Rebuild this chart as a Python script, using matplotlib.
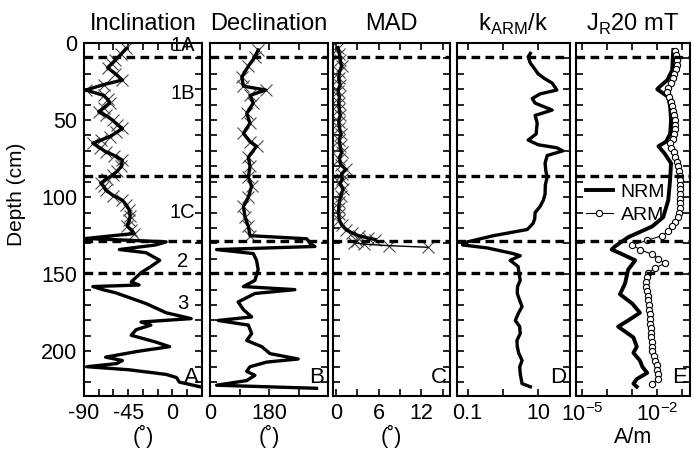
import numpy as np
import matplotlib

matplotlib.use("Agg")
import matplotlib.pyplot as plt
from matplotlib.ticker import MultipleLocator, FixedLocator, FuncFormatter, NullLocator

plt.rcParams["font.family"] = ["Liberation Sans", "DejaVu Sans"]
plt.rcParams["mathtext.fontset"] = "custom"
plt.rcParams["mathtext.rm"] = "Liberation Sans"

# boundaries between units (cm)
unit_depths = [9, 86, 128.5, 149]
unit_labels = ["1A", "1B", "1C", "2", "3"]
unit_label_depths = [1.5, 33, 110, 142, 169]

# inclination (deg)
inc_depth = [3.5, 7, 11, 13.5, 16, 20, 24, 27, 30.5, 34, 36.5, 39, 42, 44.6, 47, 50, 53, 55.4,
             58, 60.8, 63, 65, 68, 70.5, 73, 76, 80, 83, 85.7, 88, 91, 93, 95.5, 99, 102, 105,
             108.4, 112, 115, 119, 121, 123.6,
             126.8, 129, 131, 134, 136, 141, 145, 149, 155, 157, 158, 160, 162, 169, 175, 178.8,
             181, 183, 186, 189.6, 194, 197, 200, 203.8, 206, 208, 210, 212, 215, 217, 220, 223]
inc = [-47, -52, -58, -62, -66, -58, -51, -70, -88, -70, -66, -64, -70, -75, -68, -61, -56, -51,
       -57, -64, -73, -81, -74, -68, -59, -51, -52, -56, -61, -67, -73, -70, -68, -60, -51, -47,
       -44, -43, -44, -46, -42, -39,
       -88, -6.5, -17, -54, -27, -13, -22, -32, -42, -34, -81, -71, -58, -27, -6.5, 19,
       -32, -22, -37, -42, -17, -3, -35, -68, -51, -57, -87, -44, -6.5, 4, 7, 28]

# declination (deg)
dec_depth = [4.5, 9, 15, 22, 28, 30.5, 34, 39, 45.7, 52, 58.6, 64, 67, 74, 80, 87, 93, 100,
             106, 113, 119, 125,
             127, 128, 130, 132, 134, 136.6, 141, 147, 154, 158, 160, 162.5, 168, 173, 177.7,
             180, 183, 188.5, 193, 197, 201.5, 205, 207, 210, 213, 215.6, 219, 222, 224]
dec = [147, 137, 117, 97, 102, 170, 122, 132, 112, 122, 102, 122, 142, 117, 122, 117, 127, 117,
       102, 107, 117, 122,
       295, 299, 305, 320, 20, 132, 142, 147, 137, 102, 259, 137, 86, 102, 127,
       25, 117, 127, 112, 158, 183, 269, 173, 122, 112, 137, 112, 20, 325]

# maximum angular deviation (deg)
mad_depth = [3, 7, 11, 15, 19, 23, 27, 31, 35, 39, 43, 47, 51, 55, 59, 63, 67, 71, 75, 79, 82,
             85, 88, 91, 95, 99, 103, 107, 111, 115, 118, 121, 123, 125, 126.5, 127.5,
             128.5, 129.5, 130.5, 131.5, 132.5]
mad = [0.3, 0.5, 0.6, 0.8, 0.5, 0.4, 0.6, 0.3, 0.5, 0.4, 0.5, 0.6, 0.4, 0.5, 0.7, 0.5, 0.6, 0.8,
       0.5, 0.7, 1.4, 0.8, 0.9, 0.6, 1.0, 0.7, 0.5, 0.4, 0.4, 0.5, 0.8, 1.4, 2.2, 3.2, 4.5, 5.5,
       3.0, 2.5, 4.0, 7.5, 12.9]

# kARM/k
kd_depth = [6.7, 9, 13, 16, 20, 23, 26, 30.5, 33, 36, 39, 43.5, 47, 52, 56, 59, 63, 66, 68, 70,
            73, 78, 83, 87, 92, 98, 102, 106, 110, 114, 117, 121, 125, 129, 131, 133, 136.5, 138,
            141, 145, 150, 154, 158, 162.5, 167, 171, 175, 180, 184, 188.5, 193, 197, 201, 206,
            210, 214.5, 218, 221, 223]
karm_k = [6.0, 5.2, 6.0, 7.5, 10, 15, 25, 34, 11.4, 6.8, 8.2, 25, 8.2, 9.4, 9.0, 8.8, 5.2, 10,
          34, 50, 18, 15.7, 16.5, 18, 16, 15.7, 14, 11.4, 8.2, 8.0, 7.2, 4.9, 0.54, 0.1, 0.072,
          0.37, 1.85, 3.1, 1.6, 2.7, 2.9, 3.1, 2.6, 2.56, 3.0, 3.5, 2.8, 2.25, 3.0, 3.1, 2.5,
          2.56, 2.8, 3.5, 3.0, 3.1, 3.3, 3.5, 6.0]

# intensity after 20 mT (A/m)
nrm_depth = [4.5, 10, 17.5, 24, 28, 30, 35, 41, 50, 59, 64, 67, 72, 78, 89, 102, 113, 119, 126,
             132, 134, 137, 141, 147, 156, 163, 169, 175, 180, 184, 191, 197, 201, 206, 210, 214,
             218, 221, 223]
nrm = [0.043, 0.041, 0.039, 0.025, 0.013, 0.0098, 0.027, 0.032, 0.035, 0.032, 0.022, 0.011,
       0.020, 0.035, 0.032, 0.027, 0.017, 0.0062, 6.8e-4, 2.0e-4, 1.5e-4, 3.9e-4, 1.3e-3,
       6.8e-4, 5.1e-4, 3.2e-4, 9.8e-4, 2.0e-3, 6.8e-4, 2.7e-4, 1.1e-3, 1.5e-3, 1.1e-3, 2.0e-3,
       2.5e-3, 3.9e-3, 1.5e-3, 1.1e-3, 1.5e-3]
arm_depth = [5, 8, 11, 14, 17, 20, 23, 26, 29, 32, 35, 38, 41, 44, 47, 50, 53, 56, 59, 62, 65,
             68, 71, 74, 77, 80, 83, 86, 89, 92, 95, 98, 101, 104, 107, 110, 113, 116, 119, 122,
             125, 128, 131, 134, 137, 140, 143, 146, 149, 152, 155, 158, 161, 164, 167, 170, 173,
             176, 179, 182, 185, 188, 191, 194, 197, 200, 203, 206, 209, 212, 215, 218, 221]
arm = [0.051, 0.055, 0.06, 0.062, 0.055, 0.048, 0.043, 0.035, 0.027, 0.025, 0.03, 0.035, 0.038,
       0.042, 0.047, 0.05, 0.051, 0.051, 0.048, 0.04, 0.032, 0.035, 0.045, 0.051, 0.06, 0.068,
       0.074, 0.078, 0.08, 0.081, 0.081, 0.081, 0.08, 0.08, 0.079, 0.075, 0.065, 0.05, 0.038,
       0.027, 0.015, 0.004, 9.8e-4, 0.002, 0.006, 0.011, 0.02, 0.008, 0.0043, 0.0038, 0.0035,
       0.0035, 0.004, 0.0043, 0.0043, 0.0045, 0.0047, 0.005, 0.005, 0.0052, 0.0054, 0.0056,
       0.0056, 0.0058, 0.006, 0.0062, 0.007, 0.008, 0.0095, 0.0098, 0.011, 0.011, 0.0062]

titles = ["Inclination", "Declination", "MAD",
          r"k$_{\mathregular{ARM}}$/k", r"J$_{\mathregular{R}}$20 mT"]
panel_letters = ["A", "B", "C", "D", "E"]
xunits = ["(˚)", "(˚)", "(˚)", "", "A/m"]

W, H = 693, 457
fig = plt.figure(figsize=(W / 100, H / 100), dpi=100)
lefts = [84, 210, 333, 457, 576]
widths = [118, 118, 117, 113, 114]
top_px, bot_px = 43, 396
axes = [fig.add_axes([l / W, 1 - bot_px / H, w / W, (bot_px - top_px) / H])
        for l, w in zip(lefts, widths)]

ax_inc, ax_dec, ax_mad, ax_k, ax_j = axes
mark_col = "#4a4a4a"

# Inclination
inc_depth = np.array(inc_depth)
inc = np.array(inc)
m = inc_depth <= 124
ax_inc.plot(inc[m], inc_depth[m], "x", color=mark_col, ms=8, mew=0.8)
ax_inc.plot(inc, inc_depth, color="black", lw=2.4)
ax_inc.set_xlim(-90, 30)
ax_inc.xaxis.set_major_locator(MultipleLocator(15))
ax_inc.xaxis.set_major_formatter(FuncFormatter(lambda v, p: f"{v:.0f}" if v % 45 == 0 and v <= 0 else ""))

# Declination
dec_depth = np.array(dec_depth)
dec = np.array(dec)
m = dec_depth <= 125
ax_dec.plot(dec[m], dec_depth[m], "x", color=mark_col, ms=8, mew=0.8)
ax_dec.plot(dec, dec_depth, color="black", lw=2.4)
ax_dec.set_xlim(0, 360)
ax_dec.xaxis.set_major_locator(MultipleLocator(90))
ax_dec.xaxis.set_major_formatter(FuncFormatter(lambda v, p: f"{v:.0f}" if v in (0, 180) else ""))

# MAD
mad_depth = np.array(mad_depth)
mad = np.array(mad)
ax_mad.plot(mad, mad_depth, "x", color=mark_col, ms=8, mew=0.8)
m = mad_depth <= 128
ax_mad.plot(mad[m], mad_depth[m], color="black", lw=2.4)
ax_mad.plot(mad[~m], mad_depth[~m], color="black", lw=1.0)
ax_mad.set_xlim(-0.4, 16)
ax_mad.xaxis.set_major_locator(MultipleLocator(3))
ax_mad.xaxis.set_major_formatter(FuncFormatter(lambda v, p: f"{v:.0f}" if round(v) % 6 == 0 else ""))

# kARM/k
ax_k.plot(karm_k, kd_depth, color="black", lw=2.4)
ax_k.set_xscale("log")
ax_k.set_xlim(0.05, 80)
ax_k.xaxis.set_major_locator(FixedLocator([0.1, 1, 10]))
ax_k.xaxis.set_major_formatter(FuncFormatter(lambda v, p: {0.1: "0.1", 10: "10"}.get(round(v, 1), "")))
ax_k.xaxis.set_minor_locator(NullLocator())

# J_R
ax_j.plot(nrm, nrm_depth, color="black", lw=2.8, label="NRM")
ax_j.plot(arm, arm_depth, "-o", color="black", lw=0.8, ms=4.5, mfc="white", mew=0.8, label="ARM")
ax_j.set_xscale("log")
ax_j.set_xlim(10 ** -5.25, 10 ** -0.7)
ax_j.xaxis.set_major_locator(FixedLocator([1e-5, 1e-4, 1e-3, 1e-2, 1e-1]))
ax_j.xaxis.set_major_formatter(FuncFormatter(
    lambda v, p: {-5: r"10$^{\mathregular{-5}}$", -2: r"10$^{\mathregular{-2}}$"}.get(int(round(np.log10(v))), "")))
ax_j.xaxis.set_minor_locator(NullLocator())
ax_j.legend(loc="center left", bbox_to_anchor=(0.0, 0.545), frameon=False, fontsize=14,
            handlelength=1.4, handletextpad=0.4, labelspacing=0.25, borderpad=0)

for i, ax in enumerate(axes):
    ax.set_ylim(229, 0)
    for d in unit_depths:
        ax.axhline(d, color="black", lw=2.4, ls=(0, (2.6, 1.6)))
    ax.yaxis.set_major_locator(MultipleLocator(10))
    ax.yaxis.set_major_formatter(FuncFormatter(lambda v, p: f"{v:.0f}" if v % 50 == 0 else ""))
    ax.tick_params(direction="in", top=True, right=True, length=5, width=1.2,
                   labelsize=15.5, pad=5)
    if i > 0:
        ax.tick_params(labelleft=False)
    for s in ax.spines.values():
        s.set_linewidth(1.5)
    ax.set_title(titles[i], fontsize=17, pad=9)
    ax.set_xlabel(xunits[i], fontsize=15.5, labelpad=1)
    ax.text(0.97, 0.022, panel_letters[i], transform=ax.transAxes, fontsize=16,
            ha="right", va="bottom")

for lab, d in zip(unit_labels, unit_label_depths):
    ax_inc.text(10, d, lab, fontsize=14.5, ha="center", va="center")

ax_inc.set_ylabel("Depth (cm)", fontsize=15)
ax_inc.yaxis.set_label_coords(-0.49, 0.57)

fig.savefig("out.png", dpi=100)
